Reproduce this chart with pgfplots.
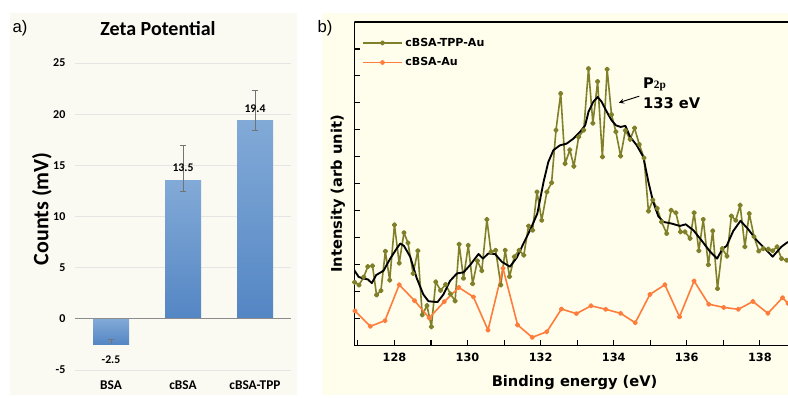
\documentclass[border=0pt]{standalone}
\usepackage{pgfplots}
\pgfplotsset{compat=1.18}
\usepackage{fontspec}
\setmainfont{DejaVu Sans}
\newfontfamily\carlito{Carlito}
\newfontfamily\dejavu{DejaVu Sans}
\newfontfamily\arialf{Liberation Sans}
\newfontfamily\timesf{Liberation Serif}
\definecolor{olivec}{RGB}{128,128,42}
\definecolor{orangec}{RGB}{255,125,60}
\definecolor{plotbg}{RGB}{255,254,236}
\definecolor{panelbg}{RGB}{251,250,242}
\definecolor{bartop}{RGB}{130,170,215}
\definecolor{barbot}{RGB}{84,134,196}

\pgfplotstableread{
x y
126.91 2.35
127.03 2.25
127.16 2.55
127.27 2.93
127.40 2.96
127.51 1.88
127.63 2.04
127.75 3.50
127.87 2.43
128.00 4.48
128.13 3.06
128.26 4.19
128.37 3.81
128.51 2.68
128.64 3.52
128.76 1.14
128.89 1.49
129.01 0.70
129.13 2.37
129.26 2.05
129.40 2.27
129.53 1.92
129.66 1.66
129.77 3.76
129.89 2.50
130.02 3.72
130.14 2.30
130.27 3.15
130.39 2.78
130.53 4.68
130.64 3.48
130.77 3.54
130.91 2.25
131.03 3.54
131.15 2.56
131.28 3.30
131.41 3.54
131.54 3.36
131.67 4.44
131.78 4.28
131.90 5.70
132.03 4.65
132.17 5.70
132.30 6.04
132.42 7.99
132.55 9.35
132.67 6.75
132.80 7.26
132.91 6.65
133.04 7.74
133.18 7.99
133.31 10.27
133.43 8.25
133.56 9.79
133.69 7.00
133.82 10.25
133.94 8.57
134.06 7.93
134.19 7.03
134.32 7.98
134.45 7.65
134.57 8.07
134.70 7.46
134.83 6.96
134.95 4.99
135.07 5.40
135.19 5.09
135.31 4.59
135.45 4.16
135.57 5.02
135.70 4.93
135.83 4.22
135.95 4.22
136.09 3.98
136.20 4.93
136.33 3.52
136.45 4.68
136.59 3.00
136.71 4.26
136.84 2.12
136.97 3.60
137.10 3.32
137.22 4.81
137.34 4.65
137.46 5.21
137.59 3.67
137.71 4.90
137.84 4.04
137.97 3.51
138.09 3.60
138.23 3.58
138.35 3.52
138.47 3.67
138.59 3.23
138.73 3.17
}\tppau

\pgfplotstableread{
x y
126.92 1.29
127.34 0.72
127.74 0.93
128.13 2.26
128.55 1.67
128.95 1.03
129.36 1.63
129.76 2.16
130.16 1.81
130.56 0.58
130.97 2.87
131.37 0.77
131.77 0.31
132.17 0.52
132.57 1.36
132.98 1.19
133.38 1.48
133.78 1.35
134.19 1.20
134.59 0.85
134.99 1.90
135.40 2.26
135.80 1.07
136.20 2.40
136.60 1.54
137.01 1.42
137.41 1.35
137.81 1.64
138.22 1.20
138.62 1.78
138.77 1.57
}\bsaau

\pgfplotstableread{
x y
126.90 2.80
127.02 2.55
127.15 2.49
127.27 2.46
127.38 2.32
127.50 2.62
127.70 2.78
127.88 3.22
128.06 3.60
128.16 3.79
128.26 3.70
128.43 3.30
128.61 2.50
128.79 1.90
128.93 1.65
129.07 1.63
129.18 1.62
129.34 1.90
129.52 2.40
129.71 2.68
129.89 2.72
130.07 2.99
130.30 3.40
130.42 3.23
130.57 3.42
130.75 3.40
130.94 3.11
131.16 2.93
131.35 3.27
131.53 3.79
131.71 4.28
131.91 4.90
132.08 6.07
132.21 6.81
132.35 7.25
132.53 7.43
132.71 7.49
132.90 7.68
133.08 7.93
133.22 8.17
133.31 8.67
133.44 9.04
133.56 9.22
133.67 9.04
133.81 8.67
133.94 8.36
134.06 8.17
134.19 8.11
134.32 8.15
134.45 7.74
134.63 7.43
134.81 7.00
134.95 6.07
135.08 5.33
135.22 4.80
135.36 4.59
135.58 4.53
135.81 4.44
135.97 4.50
136.18 4.28
136.40 3.91
136.63 3.50
136.83 3.23
136.98 3.60
137.09 3.70
137.27 4.25
137.47 4.63
137.68 4.32
137.91 3.91
138.14 3.60
138.35 3.30
138.59 3.67
138.77 3.85
}\smooth

\begin{document}
\begin{tikzpicture}
\path[use as bounding box] (0,0) rectangle (591pt,298.5pt);
\fill[panelbg] (7.5pt,2.25pt) rectangle (222.75pt,288.75pt);
\fill[plotbg] (241.5pt,2.25pt) rectangle (591pt,288.75pt);
\node[font=\arialf\fontsize{12.5}{14}\selectfont] at (15pt,277.5pt) {a)};
\node[font=\arialf\fontsize{12.5}{14}\selectfont] at (243.75pt,277.5pt) {b)};

\begin{axis}[
  at={(56.25pt,21pt)}, anchor=south west, scale only axis,
  width=162pt, height=230.25pt,
  xmin=-0.5, xmax=2.5, ymin=-5, ymax=25,
  ytick={-5,0,5,10,15,20,25},
  xtick={0,1,2}, xticklabels={BSA,cBSA,cBSA-TPP},
  axis line style={draw=none}, major tick style={draw=none},
  ymajorgrids, grid style={black!10, line width=0.5pt},
  /pgf/number format/assume math mode=true,
  yticklabel style={font=\carlito\bfseries\fontsize{9}{10}\selectfont, inner sep=0pt, xshift=-7pt},
  xticklabel style={font=\carlito\bfseries\fontsize{10}{12}\selectfont, inner sep=0pt, anchor=center, yshift=-11.25pt},
  title={Zeta Potential},
  title style={font=\carlito\bfseries\fontsize{15}{17}\selectfont, at={(axis description cs:0.384,1.085)}, anchor=center},
  ylabel={Counts (mV)},
  ylabel style={font=\carlito\bfseries\fontsize{16.5}{18}\selectfont, at={(axis description cs:-0.153,0.525)}, anchor=center},
]
\addplot[ybar, bar width=27pt, bar shift=0pt, draw=none, top color=bartop, bottom color=barbot] coordinates {(0,-2.5)};
\addplot[ybar, bar width=27pt, bar shift=0pt, draw=none, top color=bartop, bottom color=barbot] coordinates {(1,13.5)};
\addplot[ybar, bar width=27pt, bar shift=0pt, draw=none, top color=bartop, bottom color=barbot] coordinates {(2,19.4)};
\draw[black!45, line width=0.8pt] (axis cs:-0.5,0) -- (axis cs:2.5,0);
\addplot[draw=none, mark=none, forget plot,
  error bars/.cd, y dir=plus, y explicit,
  error bar style={draw=black!55, line width=0.5pt},
  error mark options={rotate=90, mark size=2.6pt, draw=black!55, line width=0.5pt}]
  coordinates {(0,-2.5) += (0,0.45) -= (0,0)};
\addplot[draw=none, mark=none, forget plot,
  error bars/.cd, y dir=both, y explicit,
  error bar style={draw=black!55, line width=0.5pt},
  error mark options={rotate=90, mark size=2.6pt, draw=black!55, line width=0.5pt}]
  coordinates {(1,13.5) += (0,3.5) -= (0,1.0) (2,19.4) += (0,2.9) -= (0,1.0)};
\node[font=\carlito\bfseries\fontsize{8.8}{10}\selectfont] at (axis cs:0,-4.0) {-2.5};
\node[font=\carlito\bfseries\fontsize{8.8}{10}\selectfont] at (axis cs:1,14.8) {13.5};
\node[font=\carlito\bfseries\fontsize{8.8}{10}\selectfont] at (axis cs:2,20.5) {19.4};
\end{axis}

\begin{axis}[
  at={(265.7pt,39.2pt)}, anchor=south west, scale only axis,
  width=325.3pt, height=242.8pt,
  xmin=126.9, xmax=138.77, ymin=0, ymax=12,
  axis x line*=bottom, axis y line*=left,
  axis line style={black, line width=0.9pt, -},
  xtick={128,130,...,138}, minor xtick={127,129,...,139},
  ytick={1,...,11}, yticklabels={},
  tick align=inside, major tick length=4pt, minor tick length=4pt,
  tick style={black, line width=0.8pt},
  /pgf/number format/assume math mode=true,
  xticklabel style={font=\dejavu\bfseries\fontsize{8.5}{10}\selectfont, inner sep=0pt, anchor=center, yshift=-8.5pt},
  xlabel={Binding energy (eV)},
  xlabel style={font=\dejavu\bfseries\fontsize{11}{13}\selectfont, at={(axis description cs:0.508,-0.114)}, anchor=center},
  ylabel={Intensity (arb unit)},
  ylabel style={font=\dejavu\bfseries\fontsize{11}{13}\selectfont, at={(axis description cs:-0.0376,0.469)}, anchor=center},
  legend style={draw=none, fill=none, at={(0.018,0.96)}, anchor=north west,
    font=\dejavu\bfseries\fontsize{8.3}{10}\selectfont, row sep=3pt, inner sep=0pt},
  legend cell align=left,
  legend image code/.code={\draw[mark repeat=2,mark phase=2,#1] plot coordinates {(0pt,0pt) (14.5pt,0pt) (29pt,0pt)};},
  line join=round,
]
\draw[black, line width=1.1pt] (rel axis cs:0,1) -- (rel axis cs:1,1);
\addplot[olivec, line width=1.2pt, mark=*, mark size=1.4pt, mark options={solid, fill=olivec, draw=olivec}] table[x=x,y=y] {\tppau};
\addlegendentry{cBSA-TPP-Au}
\addplot[orangec, line width=1.2pt, mark=*, mark size=1.35pt, mark options={solid, fill=orangec, draw=orangec}] table[x=x,y=y] {\bsaau};
\addlegendentry{cBSA-Au}
\addplot[black, line width=1.4pt, forget plot] table[x=x,y=y] {\smooth};
\draw[-stealth, line width=0.7pt] (axis cs:134.70,9.25) -- (axis cs:134.14,9.01);
\node[anchor=west, inner sep=0pt, font=\dejavu\bfseries\fontsize{11}{12}\selectfont] at (axis cs:134.80,9.69) {P{\timesf\bfseries\fontsize{8.5}{9}\selectfont 2p}};
\node[anchor=west, inner sep=0pt, font=\dejavu\bfseries\fontsize{11}{12}\selectfont] at (axis cs:134.80,9.0) {133 eV};
\end{axis}
\end{tikzpicture}
\end{document}
